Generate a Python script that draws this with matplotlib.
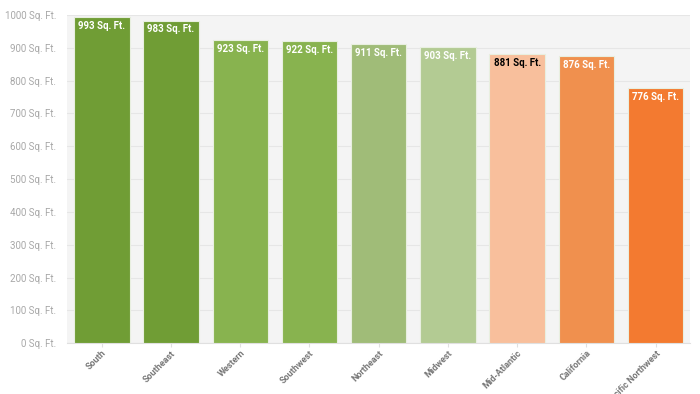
import matplotlib
matplotlib.use("Agg")
import matplotlib.pyplot as plt

regions = ["South", "Southeast", "Western", "Southwest", "Northeast",
           "Midwest", "Mid-Atlantic", "California", "Pacific Northwest"]
sqft = [993, 983, 923, 922, 911, 903, 881, 876, 776]
colors = ["#709d35", "#709d35", "#88b34f", "#88b34f", "#a0bc78",
          "#b3cb93", "#f8bf9c", "#f0904e", "#f37a30"]
label_colors = ["white"] * 6 + ["black", "white", "white"]
yticks = list(range(0, 1001, 100))

plt.rcParams['font.family'] = ['Roboto', 'DejaVu Sans']

fig = plt.figure(figsize=(7, 3.94), dpi=100)
ax = fig.add_axes([0.096, 0.129, 0.89, 0.833])
ax.set_facecolor("#f4f4f4")

x = list(range(len(regions)))
bars = ax.bar(x, sqft, width=0.8, color=colors, edgecolor="#e8efe0", linewidth=0.8, zorder=3)

for b, v, c in zip(bars, sqft, label_colors):
    ax.text(b.get_x() + b.get_width() / 2, v - 12, f"{v} Sq. Ft.",
            ha="center", va="top", fontsize=7, fontweight="bold", color=c, zorder=4)

ax.set_xlim(-0.5, len(regions) - 0.5)
ax.set_ylim(0, 1000)
ax.set_yticks(yticks)
ax.set_yticklabels([f"{t} Sq. Ft." for t in yticks], fontsize=7, color="#a8a8a8")
ax.set_xticks(x)
ax.set_xticklabels(regions, rotation=45, ha="right", rotation_mode="anchor",
                   fontsize=6.5, color="#777777", fontweight="bold")
ax.grid(axis="y", color="#e6e6e6", linewidth=0.8, zorder=0)
for s in ["top", "right", "left"]:
    ax.spines[s].set_visible(False)
ax.spines["bottom"].set_color("#e0e0e0")
ax.tick_params(axis="y", length=0, pad=8)
ax.tick_params(axis="x", length=3, color="#e0e0e0", pad=1)

fig.savefig("out.png", dpi=100)
